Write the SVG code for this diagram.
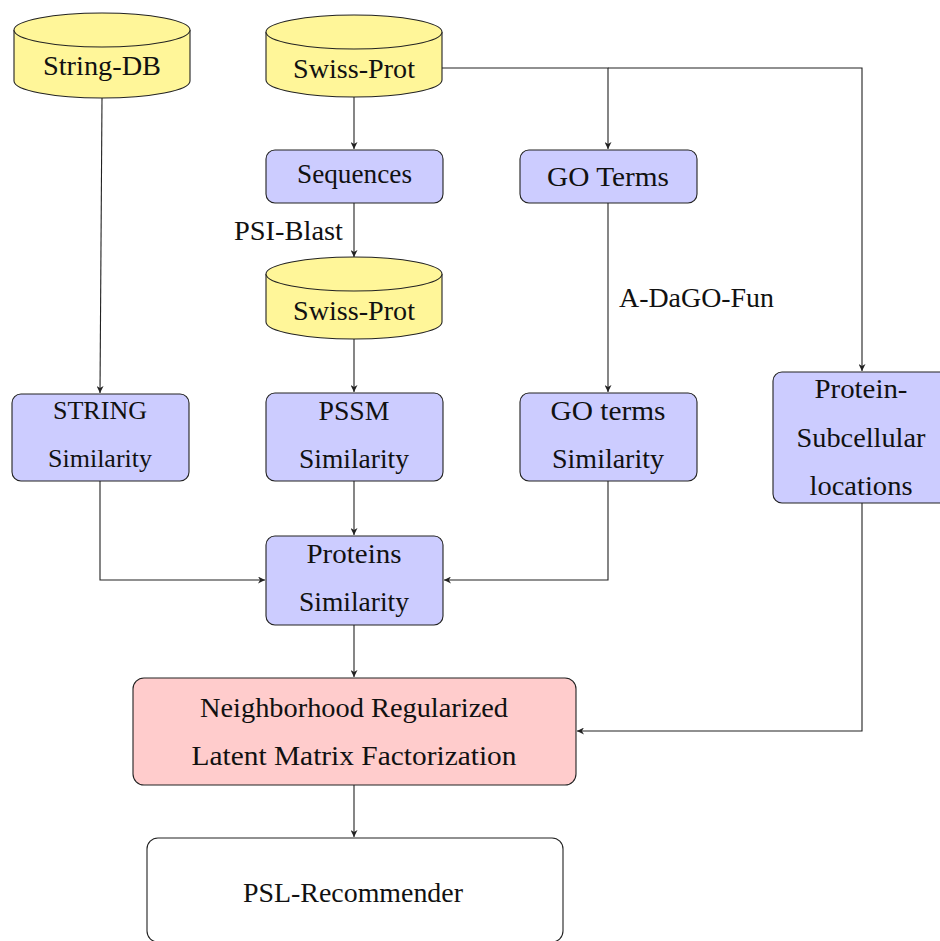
<svg xmlns="http://www.w3.org/2000/svg" width="940" height="941" viewBox="0 0 940 941">
<style>
text{font-family:"Liberation Serif","Times New Roman",serif;font-size:27px;fill:#111;text-anchor:middle}
.sm{font-size:25px}
.box{fill:#ccccff;stroke:#222;stroke-width:1.1}
.red{fill:#ffcccc;stroke:#222;stroke-width:1.1}
.white{fill:#fff;stroke:#222;stroke-width:1.1}
.cyl{fill:#fff699;stroke:#222;stroke-width:1.1}
.edge{fill:none;stroke:#222;stroke-width:1.1;marker-end:url(#ah)}
</style>
<defs>
<marker id="ah" viewBox="0 0 10 10" refX="10" refY="5" markerWidth="7" markerHeight="7" markerUnits="userSpaceOnUse" orient="auto">
<path d="M0,0 L10,5 L0,10 L3,5 Z" fill="#222"/>
</marker>
</defs>
<rect width="940" height="941" fill="#fff"/>

<g id="edges">
<path class="edge" d="M102,98 L100,393"/>
<path class="edge" d="M354,97 L354,149"/>
<path class="edge" d="M442,68 L608,68 L608,149"/>
<path class="edge" d="M608,68 L862,68 L862,371"/>
<path class="edge" d="M354,203 L354,257"/>
<path class="edge" d="M354,339 L354,392"/>
<path class="edge" d="M608,203 L608,392"/>
<path class="edge" d="M100,481 L100,580 L265,580"/>
<path class="edge" d="M354,481 L354,535"/>
<path class="edge" d="M608,481 L608,580 L444,580"/>
<path class="edge" d="M354,625 L354,677"/>
<path class="edge" d="M862,503 L862,731 L577,731"/>
<path class="edge" d="M354,785 L354,837"/>
<text x="343" y="240" style="text-anchor:end" textLength="109" lengthAdjust="spacingAndGlyphs">PSI-Blast</text>
<text x="619" y="307" style="text-anchor:start" textLength="155" lengthAdjust="spacingAndGlyphs">A-DaGO-Fun</text>
</g>

<g id="string-db">
<path class="cyl" d="M14,30 A88,17 0 0 1 190,30 L190,81 A88,17 0 0 1 14,81 Z"/>
<path class="cyl" d="M14,30 A88,17 0 0 0 190,30" fill="none"/>
<text x="102" y="75" textLength="118" lengthAdjust="spacingAndGlyphs">String-DB</text>
</g>

<g id="swiss-prot-1">
<path class="cyl" d="M266,32 A88,17 0 0 1 442,32 L442,80 A88,17 0 0 1 266,80 Z"/>
<path class="cyl" d="M266,32 A88,17 0 0 0 442,32" fill="none"/>
<text x="354" y="78" textLength="122" lengthAdjust="spacingAndGlyphs">Swiss-Prot</text>
</g>

<g id="sequences">
<rect class="box" x="266" y="150" width="177" height="53" rx="9"/>
<text x="354.5" y="183" textLength="115" lengthAdjust="spacingAndGlyphs">Sequences</text>
</g>

<g id="go-terms">
<rect class="box" x="520" y="150" width="177" height="53" rx="9"/>
<text x="608" y="186" textLength="122" lengthAdjust="spacingAndGlyphs">GO Terms</text>
</g>

<g id="swiss-prot-2">
<path class="cyl" d="M266,274 A88,17 0 0 1 442,274 L442,322 A88,17 0 0 1 266,322 Z"/>
<path class="cyl" d="M266,274 A88,17 0 0 0 442,274" fill="none"/>
<text x="354" y="320" textLength="122" lengthAdjust="spacingAndGlyphs">Swiss-Prot</text>
</g>

<g id="string-similarity">
<rect class="box" x="12" y="394" width="177" height="87" rx="9"/>
<text class="sm" x="100" y="419" textLength="94" lengthAdjust="spacingAndGlyphs">STRING</text>
<text class="sm" x="100" y="467" textLength="104" lengthAdjust="spacingAndGlyphs">Similarity</text>
</g>

<g id="pssm-similarity">
<rect class="box" x="266" y="393" width="177" height="88" rx="9"/>
<text x="354" y="420" textLength="71" lengthAdjust="spacingAndGlyphs">PSSM</text>
<text x="354" y="468" textLength="110" lengthAdjust="spacingAndGlyphs">Similarity</text>
</g>

<g id="go-terms-similarity">
<rect class="box" x="520" y="393" width="177" height="88" rx="9"/>
<text x="608" y="420" textLength="115" lengthAdjust="spacingAndGlyphs">GO terms</text>
<text x="608" y="468" textLength="112" lengthAdjust="spacingAndGlyphs">Similarity</text>
</g>

<g id="protein-subcellular">
<rect class="box" x="773" y="372" width="178" height="131" rx="9"/>
<text x="861" y="398" textLength="93" lengthAdjust="spacingAndGlyphs">Protein-</text>
<text x="861" y="447" textLength="129" lengthAdjust="spacingAndGlyphs">Subcellular</text>
<text x="861" y="495" textLength="103" lengthAdjust="spacingAndGlyphs">locations</text>
</g>

<g id="proteins-similarity">
<rect class="box" x="266" y="536" width="177" height="89" rx="9"/>
<text x="354" y="563" textLength="95" lengthAdjust="spacingAndGlyphs">Proteins</text>
<text x="354" y="611" textLength="110" lengthAdjust="spacingAndGlyphs">Similarity</text>
</g>

<g id="nrlmf">
<rect class="red" x="133" y="678" width="443" height="107" rx="11"/>
<text x="354" y="717" textLength="308" lengthAdjust="spacingAndGlyphs">Neighborhood Regularized</text>
<text x="354" y="765" textLength="325" lengthAdjust="spacingAndGlyphs">Latent Matrix Factorization</text>
</g>

<g id="psl-recommender">
<rect class="white" x="147" y="838" width="416" height="104" rx="11"/>
<text x="353" y="902" textLength="220" lengthAdjust="spacingAndGlyphs">PSL-Recommender</text>
</g>
</svg>
